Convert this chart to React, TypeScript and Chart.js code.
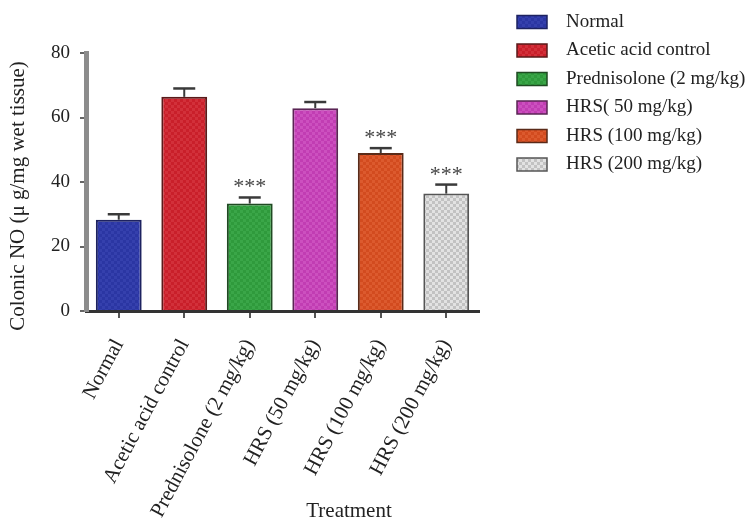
import React, { useEffect, useRef } from "react";
import { Chart, registerables } from "chart.js";

Chart.register(...registerables);

const categories = [
  "Normal",
  "Acetic acid control",
  "Prednisolone (2 mg/kg)",
  "HRS (50 mg/kg)",
  "HRS (100 mg/kg)",
  "HRS (200 mg/kg)",
];
const legendLabels = [
  "Normal",
  "Acetic acid control",
  "Prednisolone (2 mg/kg)",
  "HRS( 50 mg/kg)",
  "HRS (100 mg/kg)",
  "HRS (200 mg/kg)",
];
const means = [28.3, 66.4, 33.3, 62.9, 49.0, 36.4];
const sems = [1.7, 2.6, 1.9, 1.9, 1.5, 2.8];
const significance = ["", "", "***", "", "***", "***"];
const yMin = 0;
const yMax = 80;
const yStep = 20;
const yTitle = "Colonic NO (\u03bc g/mg wet tissue)";
const xTitle = "Treatment";

const baseColors = ["#2b36a3", "#c91f2a", "#2f9a3c", "#c13db3", "#d24b1f", "#c2c2c2"];
const altColors = ["#3540ad", "#d2303a", "#3aa648", "#cc50bf", "#dc5a2e", "#e2e2e2"];
const borderColors = ["#1d2260", "#5a1a1a", "#1f4a22", "#5a2454", "#5a2a18", "#555555"];

const SERIF = '"Liberation Serif", "Times New Roman", serif';

function makePattern(base: string, alt: string): CanvasPattern | string {
  const c = document.createElement("canvas");
  c.width = 6;
  c.height = 6;
  const g = c.getContext("2d");
  if (!g) return base;
  g.fillStyle = base;
  g.fillRect(0, 0, 6, 6);
  g.fillStyle = alt;
  g.fillRect(0, 0, 3, 3);
  g.fillRect(3, 3, 3, 3);
  const p = g.createPattern(c, "repeat");
  return p || base;
}

export default function App() {
  const ref = useRef<HTMLCanvasElement | null>(null);

  useEffect(() => {
    if (!ref.current) return;
    const patterns = baseColors.map((b, i) => makePattern(b, altColors[i]));

    const overlay = {
      id: "overlay",
      afterDatasetsDraw(chart: any) {
        const { ctx, scales } = chart;
        const y = scales.y;
        const meta = chart.getDatasetMeta(0);
        meta.data.forEach((bar: any, i: number) => {
          const cx = bar.x;
          const mid = y.getPixelForValue(means[i]);
          const top = y.getPixelForValue(means[i] + sems[i]);
          ctx.save();
          ctx.strokeStyle = "#3a3a3a";
          ctx.lineWidth = 2;
          ctx.beginPath();
          ctx.moveTo(cx, mid);
          ctx.lineTo(cx, top);
          ctx.stroke();
          ctx.lineWidth = 2.5;
          ctx.beginPath();
          ctx.moveTo(cx - 11, top);
          ctx.lineTo(cx + 11, top);
          ctx.stroke();
          if (significance[i]) {
            ctx.font = "22px " + SERIF;
            ctx.textAlign = "center";
            ctx.textBaseline = "alphabetic";
            ctx.fillStyle = "#444";
            ctx.fillText(significance[i], cx, top - 4);
          }
          ctx.restore();
        });
      },
      afterDraw(chart: any) {
        const { ctx, chartArea } = chart;
        ctx.save();
        ctx.fillStyle = "#222";
        ctx.font = "21px " + SERIF;
        ctx.textAlign = "center";
        ctx.textBaseline = "middle";
        ctx.translate(18, 196);
        ctx.rotate(-Math.PI / 2);
        ctx.fillText(yTitle, 0, 0);
        ctx.setTransform(1, 0, 0, 1, 0, 0);
        ctx.font = "21px " + SERIF;
        ctx.fillText(xTitle, chartArea.right - 130, 511);
        const bx = chartArea.right + 38;
        ctx.font = "19px " + SERIF;
        ctx.textAlign = "left";
        legendLabels.forEach((lab, i) => {
          const cy = 22 + i * 28.5;
          ctx.fillStyle = patterns[i] as any;
          ctx.fillRect(bx, cy - 6.5, 30, 13);
          ctx.strokeStyle = borderColors[i];
          ctx.lineWidth = 1.5;
          ctx.strokeRect(bx, cy - 6.5, 30, 13);
          ctx.fillStyle = "#222";
          ctx.fillText(lab, bx + 49, cy);
        });
        ctx.restore();
      },
    };

    const chart = new Chart(ref.current, {
      type: "bar",
      data: {
        labels: categories,
        datasets: [
          {
            label: "Colonic NO",
            data: means,
            backgroundColor: patterns as any,
            borderColor: borderColors,
            borderWidth: 2,
            borderSkipped: "bottom",
            categoryPercentage: 1,
            barPercentage: 0.7,
          },
        ],
      },
      options: {
        responsive: false,
        animation: false,
        layout: { padding: { top: 53, right: 273, bottom: 3, left: 0 } },
        plugins: {
          legend: { display: false },
          tooltip: { enabled: false },
        },
        scales: {
          x: {
            offset: true,
            grid: {
              offset: false,
              drawOnChartArea: false,
              drawTicks: true,
              tickLength: 7,
              color: "#555",
              lineWidth: 2,
            },
            border: { display: true, color: "#333", width: 3 },
            ticks: {
              autoSkip: false,
              minRotation: 62,
              maxRotation: 62,
              padding: 17,
              color: "#222",
              font: { family: SERIF, size: 21 },
            },
            afterFit(scale: any) {
              scale.height = 217;
            },
          },
          y: {
            min: yMin,
            max: yMax,
            ticks: {
              stepSize: yStep,
              padding: 10,
              color: "#222",
              font: { family: SERIF, size: 19 },
            },
            grid: {
              drawOnChartArea: false,
              drawTicks: true,
              tickLength: 6,
              color: "#666",
              lineWidth: 2,
            },
            border: { display: true, color: "#8c8c8c", width: 5 },
            afterFit(scale: any) {
              scale.width = 86;
            },
          },
        },
      },
      plugins: [overlay],
    } as any);

    return () => chart.destroy();
  }, []);

  return (
    <div style={{ position: "absolute", left: 0, top: 0, width: 752, height: 531, background: "#fff" }}>
      <canvas ref={ref} width={752} height={531} style={{ display: "block" }} />
    </div>
  );
}
